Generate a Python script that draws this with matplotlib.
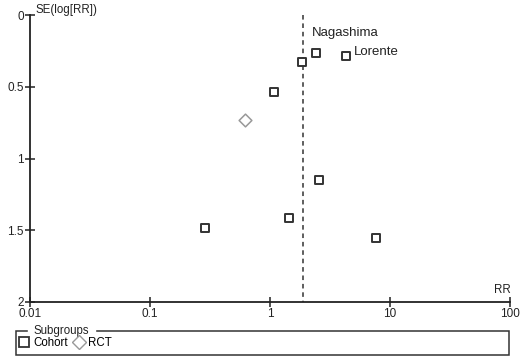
import matplotlib
matplotlib.use("Agg")
import matplotlib.pyplot as plt
from matplotlib.patches import Rectangle
from matplotlib.lines import Line2D

plt.rcParams['font.family'] = ['Liberation Sans', 'DejaVu Sans']

# study estimates (RR, SE(log RR))
cohort_rr = [2.42, 4.3, 1.85, 1.08, 2.56, 1.44, 0.287, 7.6]
cohort_se = [0.266, 0.287, 0.329, 0.538, 1.147, 1.413, 1.483, 1.552]
rct_rr = [0.62]
rct_se = [0.734]
pooled_rr = 1.88
labels = ["Nagashima", "Lorente"]
label_pos = [(2.24, 0.126), (5.0, 0.26)]
xticks = [0.01, 0.1, 1, 10, 100]
xticklabels = ["0.01", "0.1", "1", "10", "100"]
yticks = [0, 0.5, 1, 1.5, 2]
yticklabels = ["0", "0.5", "1", "1.5", "2"]

fig = plt.figure(figsize=(5.3, 3.64), dpi=100)
ax = fig.add_axes([30/530, 1-302/364, 480/530, 287/364])

ax.set_xscale('log')
ax.set_xlim(0.01, 100)
ax.set_ylim(2, 0)

ax.plot([pooled_rr, pooled_rr], [0, 2], color='#333333', lw=1.1,
        linestyle=(0, (3, 2.5)))
ax.scatter(cohort_rr, cohort_se, marker='s', s=38, facecolor='white',
           edgecolor='#333333', linewidth=1.4, zorder=3)
ax.scatter(rct_rr, rct_se, marker='D', s=42, facecolor='white',
           edgecolor='#999999', linewidth=1.1, zorder=3)

for t, (x, y) in zip(labels, label_pos):
    ax.text(x, y, t, fontsize=9.5, color='#222222', va='center', ha='left')

for s in ['top', 'right']:
    ax.spines[s].set_visible(False)
for s in ['left', 'bottom']:
    ax.spines[s].set_linewidth(1.3)
    ax.spines[s].set_color('#222222')

ax.set_xticks(xticks)
ax.set_xticklabels(xticklabels)
ax.xaxis.set_minor_locator(matplotlib.ticker.NullLocator())
ax.set_yticks(yticks)
ax.set_yticklabels(yticklabels)
ax.tick_params(direction='inout', length=7, width=1.1, labelsize=8.5,
               colors='#222222', pad=1)

fig.text(35/530, 1-10/364, 'SE(log[RR])', fontsize=8.3,
         ha='left', va='center', color='#222222')
fig.text(511/530, 1-290/364, 'RR', fontsize=8.3, ha='right', va='center',
         color='#222222')

# subgroup legend box
box = Rectangle((16/530, 1-355/364), 493/530, 24/364, transform=fig.transFigure,
                fill=False, edgecolor='#333333', linewidth=1.1)
fig.patches.append(box)
fig.text(34/530, 1-331/364, 'Subgroups', fontsize=8.3, ha='left', va='center',
         color='#222222', backgroundcolor='white')
handles = [Line2D([], [], marker='s', linestyle='none', markersize=7,
                  markerfacecolor='white', markeredgecolor='#333333',
                  markeredgewidth=1.3, label='Cohort'),
           Line2D([], [], marker='D', linestyle='none', markersize=7.5,
                  markerfacecolor='white', markeredgecolor='#999999',
                  markeredgewidth=1.0, label='RCT')]
fig.legend(handles=handles, loc='center left', ncol=2, frameon=False,
           bbox_to_anchor=(18/530, 1-343/364), fontsize=8.3,
           handletextpad=0.3, columnspacing=0.45, handlelength=1.0,
           borderpad=0, borderaxespad=0)

fig.savefig('out.png', dpi=100)
